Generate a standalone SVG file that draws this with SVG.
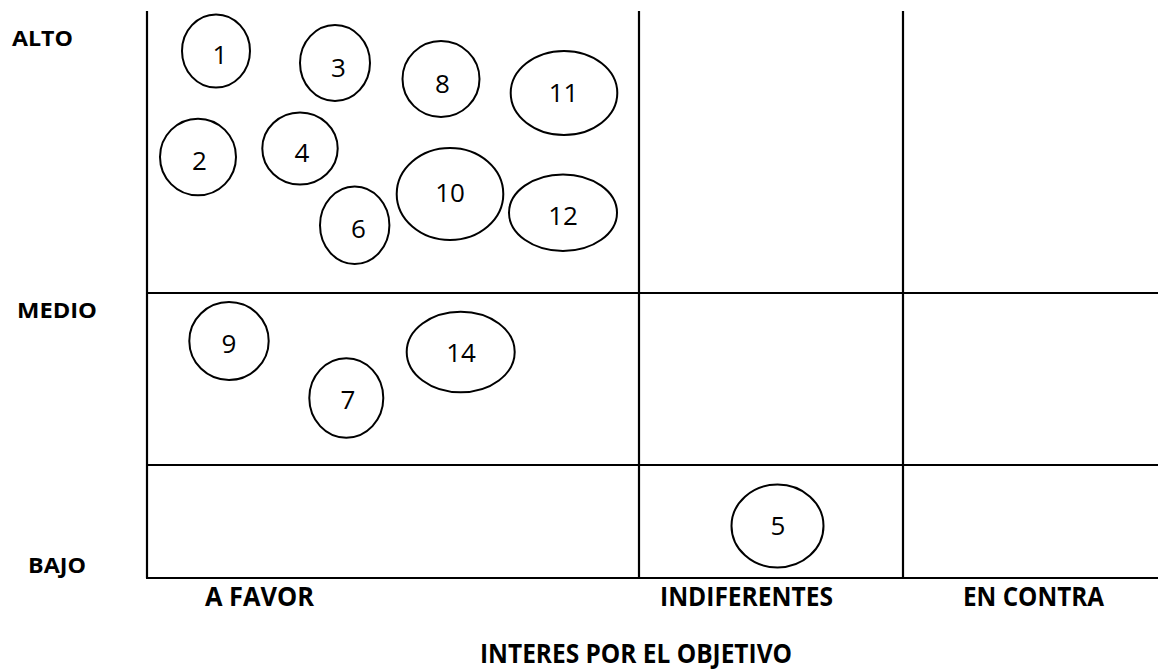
<svg xmlns="http://www.w3.org/2000/svg" width="1158" height="671" viewBox="0 0 1158 671">
<style>
.grid{stroke:#000;stroke-width:2.2;fill:none}
.node ellipse{fill:#fff;stroke:#000;stroke-width:2}
.node text{font-family:"Open Sans","Noto Sans",sans-serif;font-size:26px;fill:#000;text-anchor:middle}
.lbl{font-family:"Open Sans","Noto Sans",sans-serif;font-weight:bold;fill:#000}
</style>
<rect width="1158" height="671" fill="#fff"/>
<g id="grid" class="grid">
<line x1="147" y1="11" x2="147" y2="578"/>
<line x1="639" y1="11" x2="639" y2="578"/>
<line x1="903" y1="11" x2="903" y2="578"/>
<line x1="146" y1="293" x2="1158" y2="293"/>
<line x1="146" y1="465" x2="1158" y2="465"/>
<line x1="146" y1="578" x2="1158" y2="578"/>
</g>
<g id="labels">
<text class="lbl" x="12" y="46" font-size="22" textLength="61" lengthAdjust="spacingAndGlyphs">ALTO</text>
<text class="lbl" x="17" y="318" font-size="22" textLength="80" lengthAdjust="spacingAndGlyphs">MEDIO</text>
<text class="lbl" x="28" y="573" font-size="22" textLength="58" lengthAdjust="spacingAndGlyphs">BAJO</text>
<text class="lbl" x="205" y="606" font-size="26" textLength="109" lengthAdjust="spacingAndGlyphs">A FAVOR</text>
<text class="lbl" x="660" y="606" font-size="26" textLength="173" lengthAdjust="spacingAndGlyphs">INDIFERENTES</text>
<text class="lbl" x="963" y="606" font-size="26" textLength="141" lengthAdjust="spacingAndGlyphs">EN CONTRA</text>
<text class="lbl" x="480" y="663" font-size="26" textLength="312" lengthAdjust="spacingAndGlyphs">INTERES POR EL OBJETIVO</text>
</g>
<g id="n1" class="node"><ellipse cx="216" cy="51" rx="34" ry="36.5"/><text x="220" y="64">1</text></g>
<g id="n3" class="node"><ellipse cx="335" cy="63" rx="35" ry="38"/><text x="338.5" y="77">3</text></g>
<g id="n8" class="node"><ellipse cx="441" cy="79" rx="38.5" ry="38"/><text x="442.5" y="93">8</text></g>
<g id="n11" class="node"><ellipse cx="564" cy="93" rx="53.3" ry="42"/><text x="563.5" y="102">11</text></g>
<g id="n2" class="node"><ellipse cx="198" cy="157" rx="38" ry="38.3"/><text x="199.5" y="170">2</text></g>
<g id="n4" class="node"><ellipse cx="300" cy="148.5" rx="37.7" ry="36"/><text x="302" y="162">4</text></g>
<g id="n10" class="node"><ellipse cx="450" cy="194" rx="53.3" ry="46"/><text x="450" y="202">10</text></g>
<g id="n12" class="node"><ellipse cx="563" cy="212.7" rx="54" ry="38.3"/><text x="563" y="225">12</text></g>
<g id="n6" class="node"><ellipse cx="354.7" cy="225.3" rx="34.7" ry="38.7"/><text x="358.5" y="238">6</text></g>
<g id="n9" class="node"><ellipse cx="229" cy="341" rx="39.7" ry="39"/><text x="229" y="353">9</text></g>
<g id="n7" class="node"><ellipse cx="346.3" cy="398" rx="37" ry="39.7"/><text x="348" y="409">7</text></g>
<g id="n14" class="node"><ellipse cx="460.7" cy="352" rx="54" ry="40.3"/><text x="461" y="362">14</text></g>
<g id="n5" class="node"><ellipse cx="777.5" cy="526" rx="46" ry="41.5"/><text x="778" y="535">5</text></g>
</svg>
